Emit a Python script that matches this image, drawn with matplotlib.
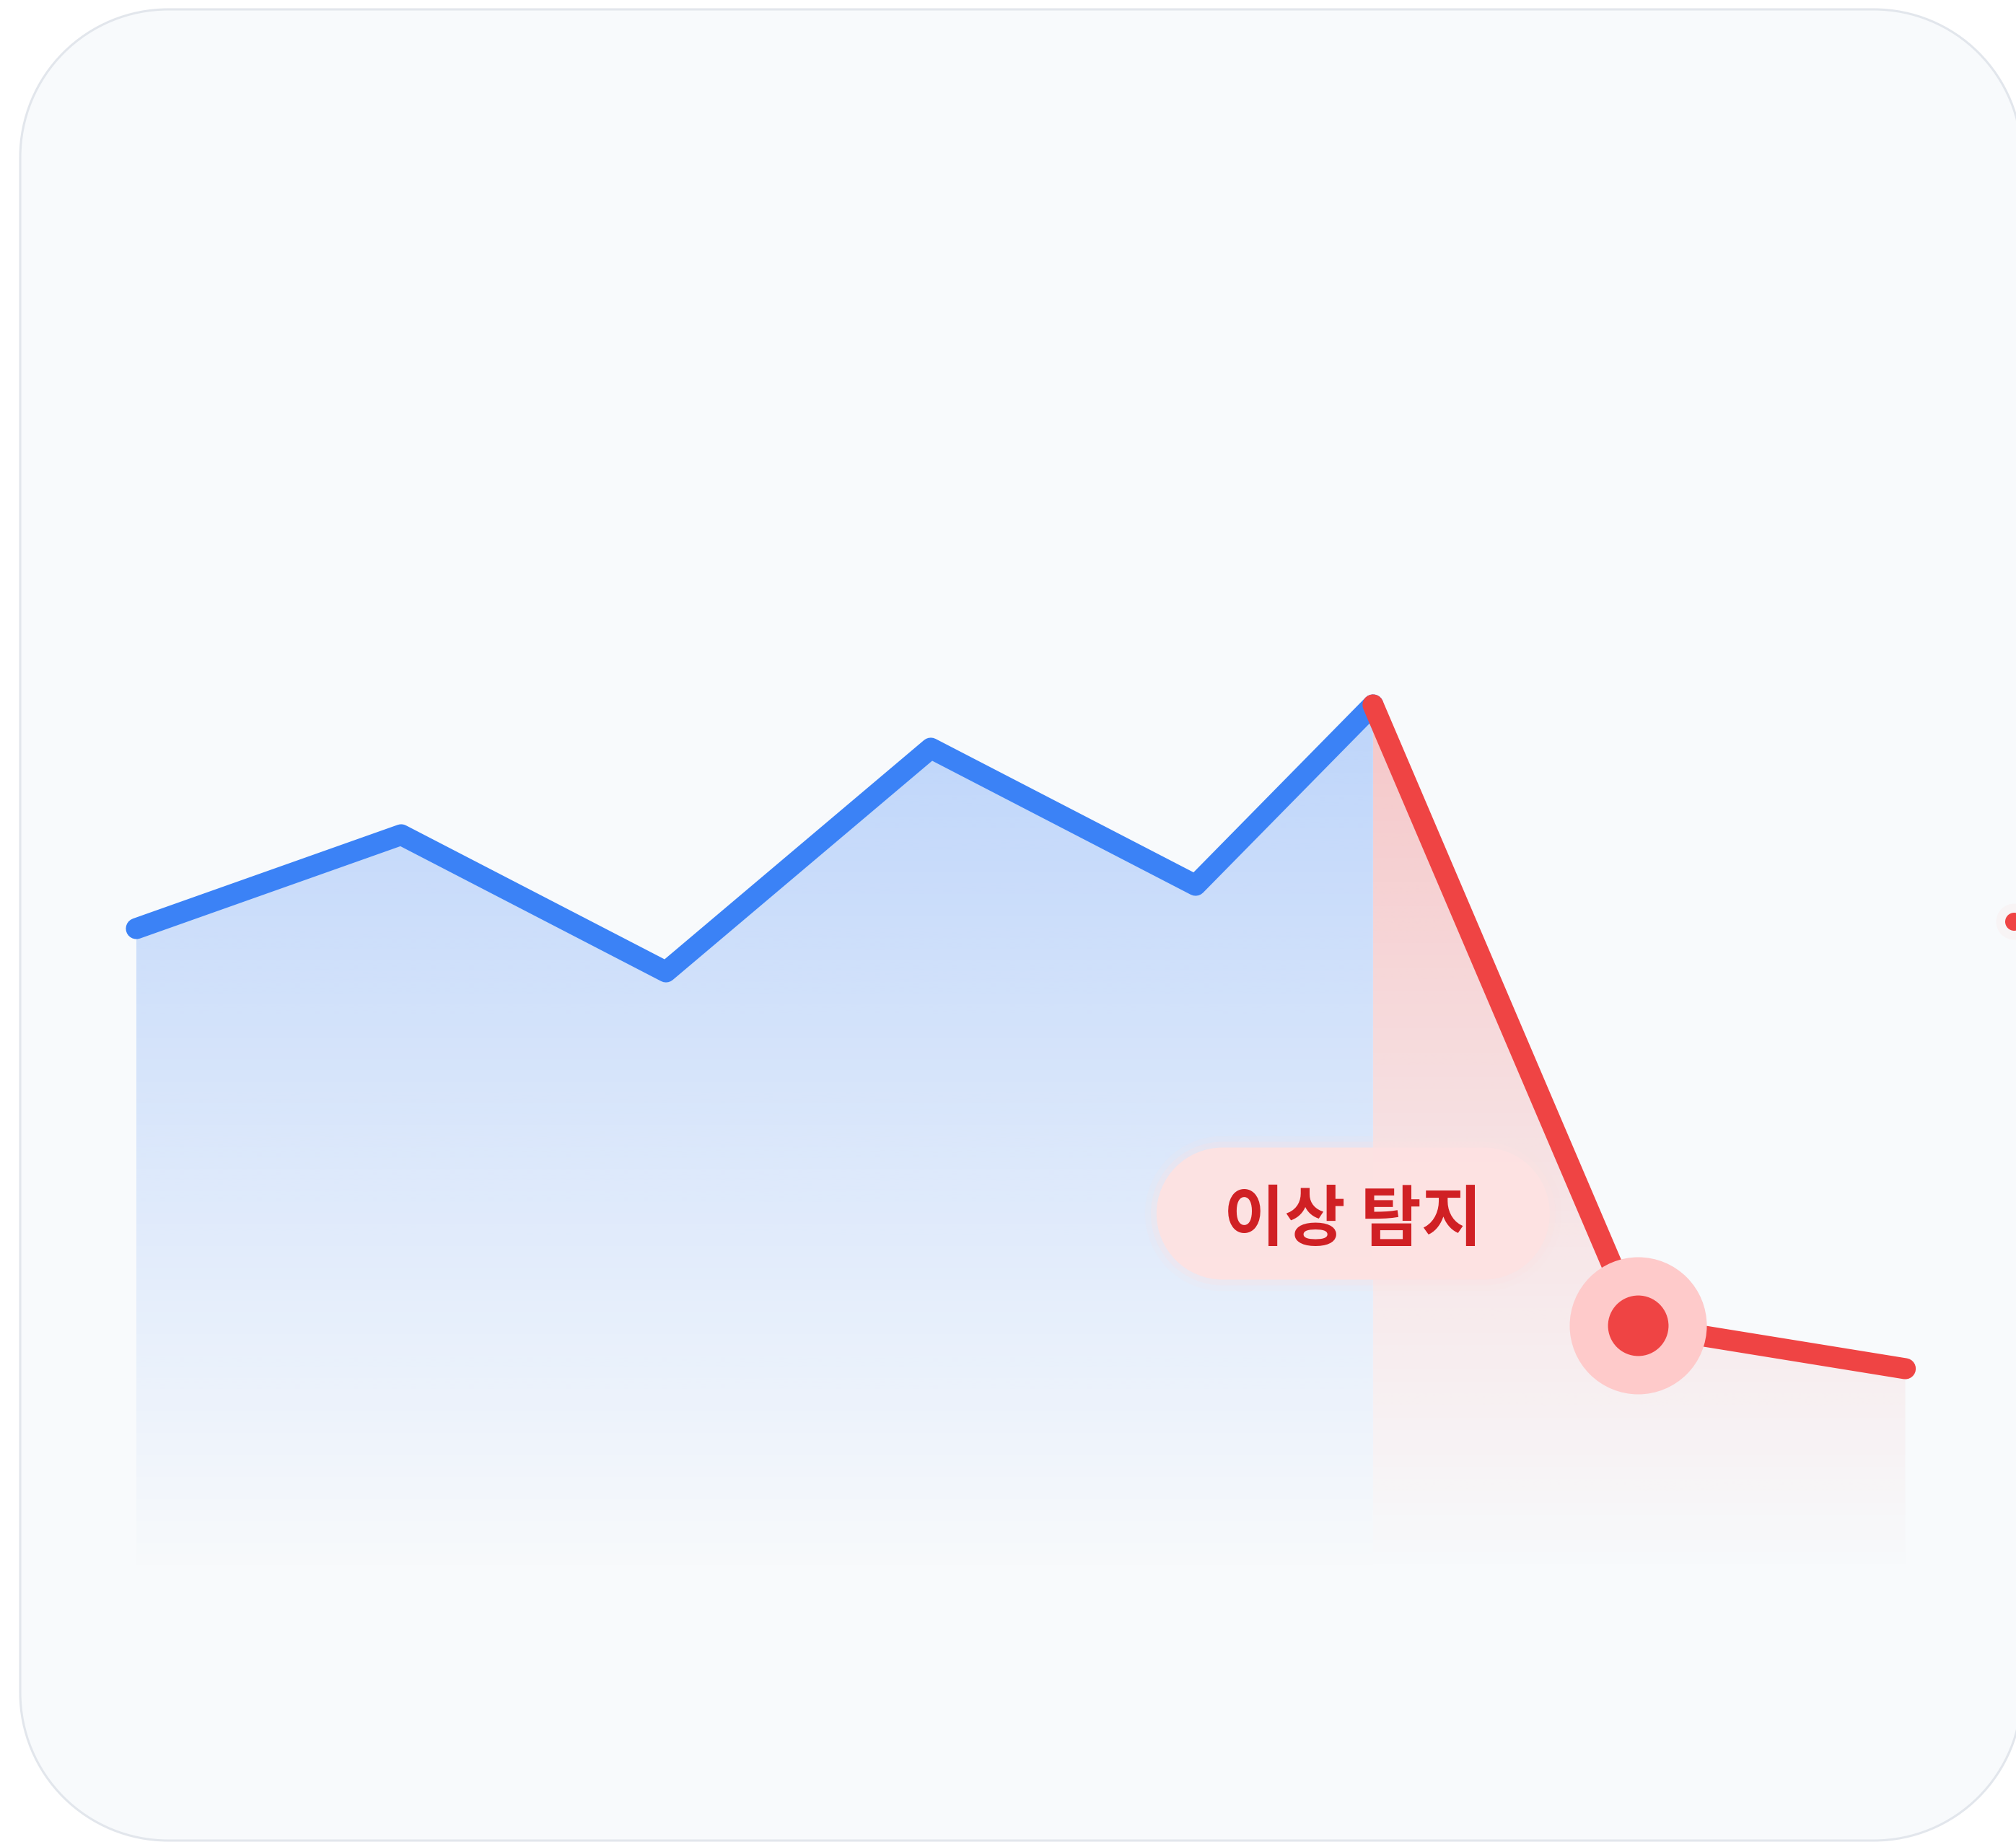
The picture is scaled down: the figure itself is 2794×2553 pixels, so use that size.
import numpy as np
import matplotlib.pyplot as plt
from matplotlib.path import Path
from matplotlib.patches import PathPatch
from matplotlib.transforms import ScaledTranslation
from matplotlib.colors import to_rgb

# normal series (blue) and the anomalous drop (red)
x_normal = [0, 1, 2, 3, 4, 4.67]
y_normal = [90, 103, 84, 115, 96, 121]
x_anom = [4.67, 5.67, 6.68]
y_anom = [121, 35, 29]

anomaly_x, anomaly_y = 5.67, 35
edge_x, edge_y = 7.09, 91

label = "이상 탐지"
label_x, label_y = 4.595, 50.5

W, H, DPI = 2794, 2553, 200
BLUE = '#3b82f6'
RED = '#ef4444'

fig = plt.figure(figsize=(W / DPI, H / DPI), dpi=DPI)
fig.patch.set_facecolor('white')
ax = fig.add_axes([0, 0, 1, 1])
ax.set_axis_off()
ax.patch.set_alpha(0)


def rounded_rect(x0, y0, w, h, r):
    # rectangle with true circular corners
    x1, y1 = x0 + w, y0 + h
    corners = [((x1 - r, y0 + r), -90, 0), ((x1 - r, y1 - r), 0, 90),
               ((x0 + r, y1 - r), 90, 180), ((x0 + r, y0 + r), 180, 270)]
    verts, codes = [], []
    for (cx, cy), t1, t2 in corners:
        arc = Path.arc(t1, t2)
        v = arc.vertices * r + [cx, cy]
        c = list(arc.codes)
        c[0] = Path.MOVETO if not verts else Path.LINETO
        verts.extend(v.tolist())
        codes.extend(c)
    verts.append(verts[0])
    codes.append(Path.CLOSEPOLY)
    return Path(verts, codes)


# card background
card = PathPatch(rounded_rect(28 / DPI, 2 / DPI, 2774 / DPI, 2538 / DPI, 205 / DPI),
                 transform=fig.dpi_scale_trans, fc='#f8fafc', ec='#e2e6ec',
                 lw=1.1, zorder=0, clip_on=False)
ax.add_patch(card)


def gradient_fill(xs, ys, color, alpha_top):
    poly = ax.fill_between(xs, ys, 0, color='none', lw=0)
    top = max(ys)
    rgba = np.zeros((256, 1, 4))
    rgba[..., :3] = to_rgb(color)
    rgba[:, 0, 3] = np.linspace(alpha_top, 0, 256)
    im = ax.imshow(rgba, extent=[xs[0], xs[-1], 0, top], aspect='auto',
                   origin='upper', interpolation='bilinear', zorder=1)
    im.set_clip_path(poly.get_paths()[0], ax.transData)


gradient_fill(x_normal, y_normal, BLUE, 0.31)
gradient_fill(x_anom, y_anom, RED, 0.28)

ax.plot(x_normal, y_normal, color=BLUE, lw=10.5, solid_capstyle='round',
        solid_joinstyle='round', zorder=3)
ax.plot(x_anom, y_anom, color=RED, lw=10.5, solid_capstyle='round',
        solid_joinstyle='round', zorder=4)

# anomaly point
ax.plot(anomaly_x, anomaly_y, 'o', ms=68.4, color='#fecaca', mec='none', zorder=5)
ax.plot(anomaly_x, anomaly_y, 'o', ms=30.2, color=RED, mec='none', zorder=6)

# dot cut off at the right edge
ax.plot(edge_x, edge_y, 'o', ms=18, color='#fecaca', alpha=0.12, mec='none', zorder=5)
ax.plot(edge_x, edge_y, 'o', ms=9, color=RED, mec='none', zorder=6)

# label pill with a soft edge
pill_w, pill_h = 545 / DPI, 183 / DPI
pill_tr = fig.dpi_scale_trans + ScaledTranslation(label_x, label_y, ax.transData)
for grow, a in [(16, 0.12), (8, 0.25), (0, 0.95)]:
    g = grow / DPI
    pill = PathPatch(rounded_rect(-pill_w / 2 - g, -pill_h / 2 - g, pill_w + 2 * g,
                                  pill_h + 2 * g, pill_h / 2 + g),
                     transform=pill_tr, fc='#fee2e2', ec='none', alpha=a, zorder=7)
    ax.add_patch(pill)

ax.text(label_x, label_y - 1.0, label, ha='center', va='center', fontsize=33,
        fontweight='bold', color='#d02024',
        family=['Noto Sans CJK KR', 'DejaVu Sans'], zorder=8)

ax.set_xlim(-189 / 367, (W - 189) / 367)
ax.set_ylim(-(H - 2187) / 10, 2187 / 10)

fig.savefig('out.png', dpi=DPI, facecolor='white')
